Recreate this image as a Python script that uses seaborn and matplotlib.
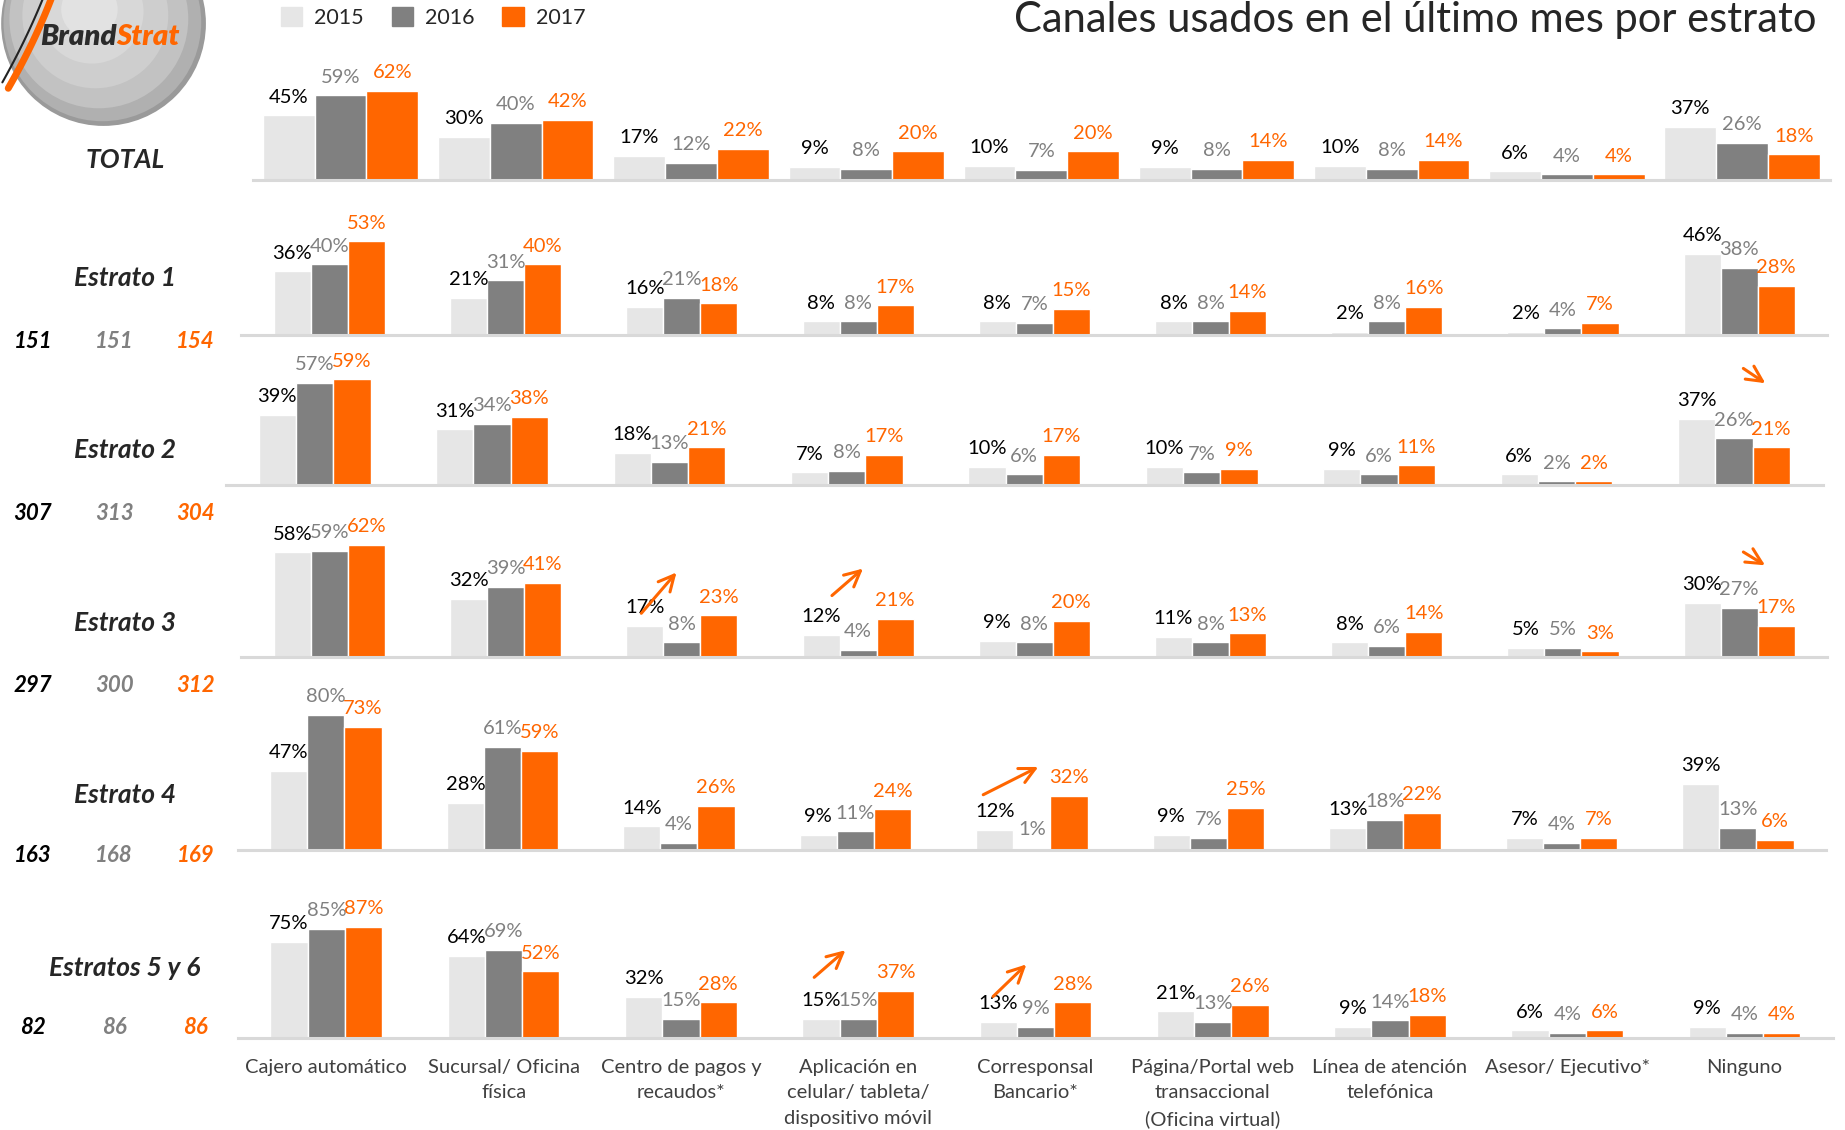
import numpy as np
import pandas as pd
import matplotlib
matplotlib.use("Agg")
import matplotlib.pyplot as plt
from matplotlib.patches import Patch, Circle
import seaborn as sns

# ---------------- DATA ----------------
canales = [
    "Cajero automático",
    "Sucursal/ Oficina\nfísica",
    "Centro de pagos y\nrecaudos*",
    "Aplicación en\ncelular/ tableta/\ndispositivo móvil",
    "Corresponsal\nBancario*",
    "Página/Portal web\ntransaccional\n(Oficina virtual)",
    "Línea de atención\ntelefónica",
    "Asesor/ Ejecutivo*",
    "Ninguno",
]
anios = ["2015", "2016", "2017"]
filas = ["TOTAL", "Estrato 1", "Estrato 2", "Estrato 3", "Estrato 4", "Estratos 5 y 6"]

total_2015 = [45, 30, 17, 9, 10, 9, 10, 6, 37]
total_2016 = [59, 40, 12, 8, 7, 8, 8, 4, 26]
total_2017 = [62, 42, 22, 20, 20, 14, 14, 4, 18]

e1_2015 = [36, 21, 16, 8, 8, 8, 2, 2, 46]
e1_2016 = [40, 31, 21, 8, 7, 8, 8, 4, 38]
e1_2017 = [53, 40, 18, 17, 15, 14, 16, 7, 28]

e2_2015 = [39, 31, 18, 7, 10, 10, 9, 6, 37]
e2_2016 = [57, 34, 13, 8, 6, 7, 6, 2, 26]
e2_2017 = [59, 38, 21, 17, 17, 9, 11, 2, 21]

e3_2015 = [58, 32, 17, 12, 9, 11, 8, 5, 30]
e3_2016 = [59, 39, 8, 4, 8, 8, 6, 5, 27]
e3_2017 = [62, 41, 23, 21, 20, 13, 14, 3, 17]

e4_2015 = [47, 28, 14, 9, 12, 9, 13, 7, 39]
e4_2016 = [80, 61, 4, 11, 1, 7, 18, 4, 13]
e4_2017 = [73, 59, 26, 24, 32, 25, 22, 7, 6]

e56_2015 = [75, 64, 32, 15, 13, 21, 9, 6, 9]
e56_2016 = [85, 69, 15, 15, 9, 13, 14, 4, 4]
e56_2017 = [87, 52, 28, 37, 28, 26, 18, 6, 4]

bases = [None, [151, 151, 154], [307, 313, 304], [297, 300, 312], [163, 168, 169], [82, 86, 86]]

valores = [
    [total_2015, total_2016, total_2017],
    [e1_2015, e1_2016, e1_2017],
    [e2_2015, e2_2016, e2_2017],
    [e3_2015, e3_2016, e3_2017],
    [e4_2015, e4_2016, e4_2017],
    [e56_2015, e56_2016, e56_2017],
]

# ---------------- STYLE / LAYOUT ----------------
colores = ["#E6E6E6", "#808080", "#FF6600"]
col_txt = ["#000000", "#808080", "#FF6600"]
W, H = 1568.0, 960.0  # layout measured on the shrunk reference

# x0, x1, baseline, px per %, group width, label y of row name, y of bases
layout = [
    (215, 1555, 153, 1.22, 0.886, 136, None),
    (205, 1553, 285, 1.51, 0.63, 236, 290),
    (192, 1549, 412, 1.52, 0.63, 382, 436),
    (205, 1553, 558, 1.53, 0.63, 529, 582),
    (202, 1552, 722, 1.43, 0.63, 675, 727),
    (202, 1558, 882, 1.09, 0.63, 822, 873),
]

# orange trend arrows: row -> list of (x_from, y_from, x_to, y_to) in data units
flechas = {
    2: [(8.04, 66, 8.19, 56)],
    3: [(1.76, 23, 1.98, 48), (2.84, 33, 3.04, 50), (8.01, 59, 8.16, 50)],
    4: [(3.71, 32, 4.05, 50)],
    5: [(2.74, 46, 2.94, 70), (3.75, 31, 3.96, 59)],
}

sns.set_style("white")
plt.rcParams["font.family"] = ["Lato", "DejaVu Sans"]

fig = plt.figure(figsize=(18.45, 11.3), dpi=100)

for i, fila in enumerate(filas):
    x0, x1, base, escala, ancho, ylab, ybase = layout[i]
    alto = 125
    ax = fig.add_axes([x0 / W, 1 - base / H, (x1 - x0) / W, alto / H])
    ax.set_facecolor("none")

    df = pd.DataFrame({
        "canal": np.repeat(canales, 3),
        "anio": anios * len(canales),
        "valor": np.array(valores[i]).T.ravel(),
    })
    sns.barplot(data=df, x="canal", y="valor", hue="anio", order=canales,
                hue_order=anios, palette=colores, saturation=1, width=ancho,
                ax=ax, legend=False, errorbar=None)

    for k, cont in enumerate(ax.containers):
        ax.bar_label(cont, labels=[f"{v}%" for v in valores[i][k]], padding=7,
                     color=col_txt[k], fontsize=14.5, clip_on=False)

    ax.set_xlim(-0.5, len(canales) - 0.5)
    ax.set_ylim(0, alto / escala)
    ax.set_xlabel("")
    ax.set_ylabel("")
    ax.set_yticks([])
    for s in ["top", "left", "right"]:
        ax.spines[s].set_visible(False)
    ax.spines["bottom"].set_color("#D9D9D9")
    ax.spines["bottom"].set_linewidth(2.2)

    if i == len(filas) - 1:
        ax.tick_params(axis="x", length=0, pad=15, labelsize=14.5, labelcolor="#404040")
        for lab in ax.get_xticklabels():
            lab.set_linespacing(1.6)
        ax.set_xticks(np.arange(-0.5, len(canales) + 0.5), minor=True)
        ax.tick_params(axis="x", which="minor", length=9, width=1.5, color="#D9D9D9")
    else:
        ax.set_xticks([])

    for (xa, ya, xb, yb) in flechas.get(i, []):
        ax.annotate("", xy=(xb, yb), xytext=(xa, ya),
                    arrowprops=dict(arrowstyle="->", color="#FF6600", lw=2.2,
                                    mutation_scale=28), annotation_clip=False)

    fig.text(106 / W, 1 - ylab / H, fila, ha="center", va="center",
             fontsize=19, fontweight="bold", fontstyle="italic")
    if bases[i] is not None:
        for k, xb in enumerate([28, 97, 166]):
            fig.text(xb / W, 1 - ybase / H, str(bases[i][k]), ha="center", va="center",
                     fontsize=16, fontweight="bold", fontstyle="italic", color=col_txt[k])

# legend
fig.legend(handles=[Patch(color=c) for c in colores], labels=anios,
           loc="center left", bbox_to_anchor=(222 / W, 1 - 15 / H), ncol=3,
           frameon=False, fontsize=15.5, handlelength=1.0, handleheight=1.0,
           columnspacing=1.3, handletextpad=0.55)

# title
fig.text(862 / W, 1 - 17 / H, "Canales usados en el último mes por estrato",
         ha="left", va="center", fontsize=30)

# logo sphere
axl = fig.add_axes([0, 1 - 115 / H, 185 / W, 115 / H])
axl.set_xlim(0, 185)
axl.set_ylim(115, 0)
axl.set_aspect("equal")
axl.axis("off")
for r, c, dx in [(87, "#9A9A9A", 0), (84, "#B0B0B0", -1), (76, "#C2C2C2", -4),
                 (62, "#CECECE", -7), (44, "#D8D8D8", -10), (24, "#E2E2E2", -12)]:
    axl.add_patch(Circle((88 + dx, 20 + dx), r, color=c, lw=0))
t = np.linspace(0, 1, 50)
axl.plot(45 - 30 * t - 8 * t ** 2, -5 + 80 * t, color="#FF6600", lw=5, solid_capstyle="round")
axl.plot(38 - 30 * t - 6 * t ** 2, -5 + 75 * t, color="#222222", lw=1.5)
axl.text(99, 31, "Brand", ha="right", va="center", fontsize=21, fontweight="heavy",
         fontstyle="italic", color="#2B2B2B")
axl.text(99, 31, "Strat", ha="left", va="center", fontsize=21, fontweight="heavy",
         fontstyle="italic", color="#FF6600")

fig.savefig("out.png", dpi=100)
